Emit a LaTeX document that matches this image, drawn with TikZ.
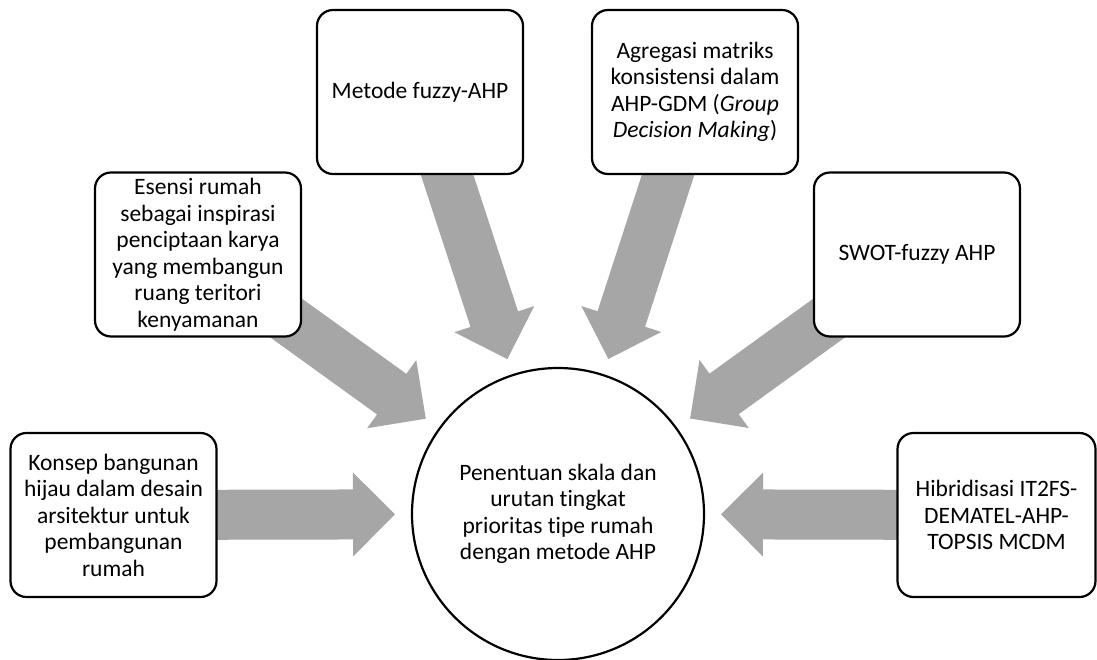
\documentclass[tikz,border=0pt]{standalone}
\usepackage{fontspec}
\setmainfont[Ligatures=NoCommon]{Carlito}
\usetikzlibrary{calc,backgrounds}
\definecolor{abuabu}{HTML}{A6A6A6}

\tikzset{
  kotak/.style={draw, line width=2.2pt, rounded corners=16pt, fill=white,
    minimum width=206pt, minimum height=164pt, align=center, inner sep=0pt},
  lingkaran/.style={circle, draw, line width=2.2pt, fill=white,
    minimum size=292pt, align=center, inner sep=0pt}
}

% panah blok abu-abu dari kotak #1 ke lingkaran pusat
\newcommand{\panah}[1]{%
  \coordinate (ujung) at ($(pusat.center)!163pt!(#1.center)$);
  \coordinate (leher) at ($(ujung)!42pt!(#1.center)$);
  \fill[abuabu] ($(#1.center)!25pt!90:(ujung)$) -- ($(leher)!25pt!90:(ujung)$)
    -- ($(leher)!42pt!90:(ujung)$) -- (ujung) -- ($(leher)!42pt!-90:(ujung)$)
    -- ($(leher)!25pt!-90:(ujung)$) -- ($(#1.center)!25pt!-90:(ujung)$) -- cycle;
}

\begin{document}
\begin{tikzpicture}[x=1pt,y=-1pt,font=\fontsize{23.5}{26.5}\selectfont]
\useasboundingbox (0,0) rectangle (1097,659);

\node[lingkaran] (pusat) at (558,514) {Penentuan skala dan\\urutan tingkat\\prioritas tipe rumah\\dengan metode AHP};

\node[kotak] (k1) at (113.5,515) {Konsep bangunan\\hijau dalam desain\\arsitektur untuk\\pembangunan\\rumah};
\node[kotak] (k2) at (198,254.5) {Esensi rumah\\sebagai inspirasi\\penciptaan karya\\yang membangun\\ruang teritori\\kenyamanan};
\node[kotak] (k3) at (420,92) {Metode fuzzy-AHP};
\node[kotak] (k4) at (695,92) {Agregasi matriks\\konsistensi dalam\\AHP-GDM (\textit{Group}\\\textit{Decision Making})};
\node[kotak] (k5) at (917,254.5) {SWOT-fuzzy AHP};
\node[kotak,minimum width=198pt] (k6) at (996.5,515) {Hibridisasi IT2FS-\\DEMATEL-AHP-\\TOPSIS MCDM};

\begin{scope}[on background layer]
\panah{k1}
\panah{k2}
\panah{k3}
\panah{k4}
\panah{k5}
\panah{k6}
\end{scope}

\end{tikzpicture}
\end{document}
